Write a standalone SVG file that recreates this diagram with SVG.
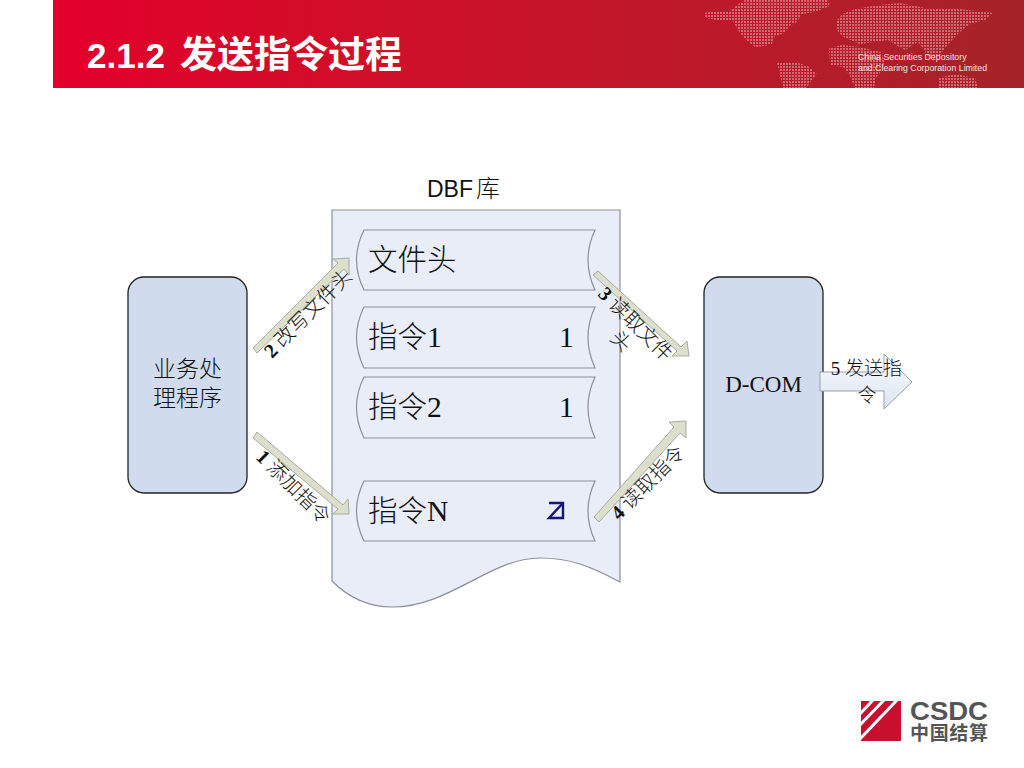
<svg xmlns="http://www.w3.org/2000/svg" width="1024" height="768" viewBox="0 0 1024 768">
<style>
.cjk{font-family:"Liberation Serif","Noto Sans CJK SC",serif;fill:#111;font-weight:300}
.sans{font-family:"Liberation Sans","Noto Sans CJK SC",sans-serif}
.row{fill:#e8edf8;stroke:#8a8f9a;stroke-width:1.2}
.box{fill:#d0dcee;stroke:#222;stroke-width:1.3}
.arrow{fill:#dcdfcc;stroke:#a9ac9c;stroke-width:1}
.t18{font-size:19px}.t20{font-size:20px}.t30{font-size:29.5px}.t23{font-size:23px}
</style>
<defs>
<linearGradient id="hdr" x1="0" x2="1" y1="0" y2="0">
<stop offset="0" stop-color="#e3002b"/><stop offset=".35" stop-color="#cf1029"/><stop offset=".7" stop-color="#bb1a2a"/><stop offset="1" stop-color="#a52329"/>
</linearGradient>
<linearGradient id="a5" x1="0" x2="0" y1="0" y2="1">
<stop offset="0" stop-color="#fafbfd"/><stop offset="1" stop-color="#dbe4f1"/>
</linearGradient>
<pattern id="dots" width="3" height="3" patternUnits="userSpaceOnUse">
<rect width="2" height="2" fill="#eda7ab"/>
</pattern>
</defs>

<g id="header">
<rect x="53" y="0" width="971" height="88" fill="url(#hdr)"/>
<g fill="url(#dots)" opacity=".55">
<polygon points="704,13 716,11 730,11 737,5 745,0 828,0 830,6 815,12 802,14 797,22 789,26 785,33 775,36 772,44 765,46 755,47 746,40 738,30 733,21 716,20 706,18"/>
<polygon points="777,63 795,62 808,66 817,74 812,80 806,88 783,88 780,75"/>
<polygon points="829,48 842,45 860,47 872,50 881,52 885,62 882,70 876,78 874,88 855,88 849,74 843,67 830,65"/>
<polygon points="836,22 842,14 855,9 878,5 900,3 925,8 960,9 993,13 985,20 970,24 962,30 954,38 945,48 940,56 930,60 924,50 918,42 905,50 897,46 888,40 875,42 860,44 845,38 838,32"/>
<polygon points="938,78 955,74 975,78 978,88 938,88"/>
</g>
<text class="sans" x="858" y="60" font-size="8.8" fill="#f8e0e1">China Securities Depository</text>
<text class="sans" x="858" y="71" font-size="8.8" fill="#f8e0e1">and Clearing Corporation Limited</text>
<text class="sans" y="68" font-weight="700" fill="#fff"><tspan x="87" font-size="35">2.1.2</tspan><tspan x="180" font-size="37">发送指令过程</tspan></text>
</g>

<g id="dbf-label"><text class="sans" y="197" fill="#111"><tspan x="427" font-size="23">DBF</tspan><tspan x="476" font-size="24" font-weight="300">库</tspan></text></g>

<g id="dbf">
<path d="M332,210H620V582C590,566 570,558 540,558C490,558 450,607 392,607C365,607 345,594 332,581Z" fill="#e8edf8" stroke="#8a8f9a" stroke-width="1.2"/>
</g>

<g id="row-header">
<path class="row" d="M364,230H595Q581,260 595,290H364Q349,260 364,230Z"/>
<text class="cjk t30" x="368" y="270">文件头</text>
</g>
<g id="row-1">
<path class="row" d="M364,307H595Q581,337 595,368H364Q349,337 364,307Z"/>
<text class="cjk t30" x="368" y="347">指令1</text>
<text class="cjk t30" x="559" y="347">1</text>
</g>
<g id="row-2">
<path class="row" d="M364,377H595Q581,407 595,438H364Q349,407 364,377Z"/>
<text class="cjk t30" x="368" y="417">指令2</text>
<text class="cjk t30" x="559" y="417">1</text>
</g>
<g id="row-n">
<path class="row" d="M364,481H595Q581,511 595,541H364Q349,511 364,481Z"/>
<text class="cjk t30" x="368" y="521">指令N</text>
<path d="M549,503H563V518H549L563,503" fill="none" stroke="#15157a" stroke-width="2.4"/>
</g>

<g id="app">
<rect class="box" x="128" y="277" width="119" height="216" rx="16"/>
<text class="cjk t23" x="187.500" y="377" text-anchor="middle">业务处</text>
<text class="cjk t23" x="187.500" y="406" text-anchor="middle">理程序</text>
</g>
<g id="dcom">
<rect class="box" x="704" y="277" width="119" height="216" rx="16"/>
<text class="cjk" font-size="23" x="763.500" y="392" text-anchor="middle">D-COM</text>
</g>

<g id="connectors">
<g id="arrow-2">
<polygon class="arrow" points="253,348 338,263 333,259 349,258 349,275 344,269 257,353"/>
<text class="cjk t20" transform="translate(272,359) rotate(-45)"><tspan font-weight="700">2</tspan> 改写文件头</text>
</g>
<g id="arrow-1">
<polygon class="arrow" points="257,432 343,505 348,499 349,514 333,514 338,509 253,438"/>
<text class="cjk t20" transform="translate(255,458) rotate(45)"><tspan font-weight="700">1</tspan> 添加指令</text>
</g>
<g id="arrow-3">
<polygon class="arrow" points="598,271 681,347 687,341 689,356 672,356 677,351 593,275"/>
<text class="cjk t20" transform="translate(597,295) rotate(45)"><tspan font-weight="700">3</tspan> 读取文件</text>
<text class="cjk t20" transform="translate(609,339) rotate(45)">头</text>
</g>
<g id="arrow-4">
<polygon class="arrow" points="594,517 674,427 669,422 686,421 686,438 680,433 599,522"/>
<text class="cjk t20" transform="translate(619,521) rotate(-45)"><tspan font-weight="700">4</tspan> 读取指令</text>
</g>
<g id="arrow-5">
<polygon points="820,372 884,372 884,354 912,382 884,409 884,391 820,391" fill="url(#a5)" stroke="#98a0ad" stroke-width="1"/>
<text class="cjk t18" x="866.500" y="375" text-anchor="middle">5 发送指</text>
<text class="cjk t18" x="867" y="402" text-anchor="middle">令</text>
</g>
</g>

<g id="logo">
<rect x="861" y="701" width="40" height="40" fill="#c8102e"/>
<g stroke="#fff" stroke-width="3">
<line x1="858" y1="716" x2="874" y2="699"/>
<line x1="858" y1="727" x2="885" y2="699"/>
<line x1="858" y1="741" x2="898" y2="699"/>
</g>
<text class="sans" x="910" y="720" font-size="25" font-weight="700" fill="#555" textLength="78" lengthAdjust="spacingAndGlyphs">CSDC</text>
<text class="sans" x="910" y="740" font-size="19" font-weight="700" fill="#555" textLength="78">中国结算</text>
</g>
</svg>
